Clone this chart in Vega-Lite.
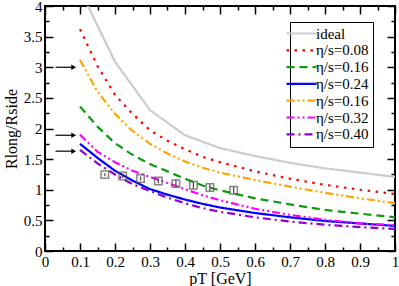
{
 "$schema": "https://vega.github.io/schema/vega-lite/v6.json",
 "width": 350, "height": 245,
 "autosize": {"type": "none"},
 "padding": {"left": 45, "top": 6, "right": 4, "bottom": 35},
 "config": {
  "view": {"stroke": "black", "strokeWidth": 2},
  "font": "Liberation Serif",
  "axis": {"grid": false, "domain": false, "tickColor": "black", "tickWidth": 1.5, "labelFont": "Liberation Serif", "labelFontSize": 15, "labelColor": "black", "titleFont": "Liberation Serif", "titleFontSize": 16, "titleFontWeight": "normal", "titleColor": "black", "labelOverlap": false, "labelFlush": false},
  "legend": {"labelFont": "Liberation Serif", "labelFontSize": 15, "labelColor": "black"}
 },
 "datasets": {
  "lines": [
   {"s":"a","x":0.1,"y":4.27},{"s":"a","x":0.2,"y":3.09},{"s":"a","x":0.3,"y":2.30},{"s":"a","x":0.4,"y":1.89},{"s":"a","x":0.5,"y":1.68},{"s":"a","x":0.6,"y":1.55},{"s":"a","x":0.7,"y":1.44},{"s":"a","x":0.8,"y":1.35},{"s":"a","x":0.9,"y":1.28},{"s":"a","x":1.0,"y":1.21},
   {"s":"b","x":0.1,"y":3.62},{"s":"b","x":0.15,"y":3.02},{"s":"b","x":0.2,"y":2.55},{"s":"b","x":0.25,"y":2.24},{"s":"b","x":0.3,"y":1.97},{"s":"b","x":0.35,"y":1.80},{"s":"b","x":0.4,"y":1.66},{"s":"b","x":0.45,"y":1.54},{"s":"b","x":0.5,"y":1.45},{"s":"b","x":0.6,"y":1.30},{"s":"b","x":0.7,"y":1.18},{"s":"b","x":0.8,"y":1.08},{"s":"b","x":0.9,"y":1.00},{"s":"b","x":1.0,"y":0.93},
   {"s":"c","x":0.1,"y":2.36},{"s":"c","x":0.15,"y":2.03},{"s":"c","x":0.2,"y":1.76},{"s":"c","x":0.25,"y":1.57},{"s":"c","x":0.3,"y":1.42},{"s":"c","x":0.35,"y":1.30},{"s":"c","x":0.4,"y":1.18},{"s":"c","x":0.45,"y":1.07},{"s":"c","x":0.5,"y":0.99},{"s":"c","x":0.6,"y":0.86},{"s":"c","x":0.7,"y":0.76},{"s":"c","x":0.8,"y":0.67},{"s":"c","x":0.9,"y":0.61},{"s":"c","x":1.0,"y":0.55},
   {"s":"d","x":0.1,"y":1.75},{"s":"d","x":0.15,"y":1.52},{"s":"d","x":0.2,"y":1.31},{"s":"d","x":0.25,"y":1.15},{"s":"d","x":0.3,"y":1.01},{"s":"d","x":0.35,"y":0.92},{"s":"d","x":0.4,"y":0.84},{"s":"d","x":0.45,"y":0.77},{"s":"d","x":0.5,"y":0.71},{"s":"d","x":0.6,"y":0.62},{"s":"d","x":0.7,"y":0.55},{"s":"d","x":0.8,"y":0.49},{"s":"d","x":0.9,"y":0.45},{"s":"d","x":1.0,"y":0.41},
   {"s":"e","x":0.1,"y":3.12},{"s":"e","x":0.15,"y":2.60},{"s":"e","x":0.2,"y":2.24},{"s":"e","x":0.25,"y":1.96},{"s":"e","x":0.3,"y":1.75},{"s":"e","x":0.35,"y":1.59},{"s":"e","x":0.4,"y":1.46},{"s":"e","x":0.45,"y":1.36},{"s":"e","x":0.5,"y":1.28},{"s":"e","x":0.6,"y":1.16},{"s":"e","x":0.7,"y":1.05},{"s":"e","x":0.8,"y":0.95},{"s":"e","x":0.9,"y":0.86},{"s":"e","x":1.0,"y":0.78},
   {"s":"f","x":0.1,"y":1.90},{"s":"f","x":0.15,"y":1.62},{"s":"f","x":0.2,"y":1.45},{"s":"f","x":0.25,"y":1.31},{"s":"f","x":0.3,"y":1.21},{"s":"f","x":0.35,"y":1.11},{"s":"f","x":0.4,"y":1.01},{"s":"f","x":0.45,"y":0.91},{"s":"f","x":0.5,"y":0.83},{"s":"f","x":0.6,"y":0.69},{"s":"f","x":0.7,"y":0.59},{"s":"f","x":0.8,"y":0.51},{"s":"f","x":0.9,"y":0.45},{"s":"f","x":1.0,"y":0.42},
   {"s":"g","x":0.1,"y":1.65},{"s":"g","x":0.15,"y":1.43},{"s":"g","x":0.2,"y":1.25},{"s":"g","x":0.25,"y":1.09},{"s":"g","x":0.3,"y":0.98},{"s":"g","x":0.35,"y":0.87},{"s":"g","x":0.4,"y":0.78},{"s":"g","x":0.45,"y":0.70},{"s":"g","x":0.5,"y":0.64},{"s":"g","x":0.6,"y":0.55},{"s":"g","x":0.7,"y":0.48},{"s":"g","x":0.8,"y":0.43},{"s":"g","x":0.9,"y":0.39},{"s":"g","x":1.0,"y":0.36}
  ],
  "pts": [
   {"x":0.171,"y":1.247,"lo":1.22,"hi":1.27},
   {"x":0.222,"y":1.225,"lo":1.195,"hi":1.255},
   {"x":0.273,"y":1.182,"lo":1.15,"hi":1.215},
   {"x":0.324,"y":1.143,"lo":1.105,"hi":1.18},
   {"x":0.374,"y":1.10,"lo":1.035,"hi":1.165},
   {"x":0.424,"y":1.072,"lo":1.015,"hi":1.13},
   {"x":0.471,"y":1.035,"lo":0.98,"hi":1.09},
   {"x":0.539,"y":0.993,"lo":0.935,"hi":1.05}
  ],
  "arrows": [
   {"x0":0.03,"x1":0.082,"y":3.0},
   {"x0":0.03,"x1":0.082,"y":1.89},
   {"x0":0.03,"x1":0.082,"y":1.63}
  ]
 },
 "layer": [
  {
   "data": {"name": "lines"},
   "mark": {"type": "line", "clip": true, "strokeWidth": 2.2},
   "encoding": {
    "x": {"field": "x", "type": "quantitative", "scale": {"domain": [0, 1], "nice": false, "zero": false},
     "axis": {"orient": "bottom", "values": [0,0.1,0.2,0.3,0.4,0.5,0.6,0.7,0.8,0.9,1], "format": "~g", "ticks": false,
      "labelPadding": 3, "title": "pT [GeV]", "titleY": 19.5, "titleBaseline": "top"}},
    "y": {"field": "y", "type": "quantitative", "scale": {"domain": [0, 4], "nice": false, "zero": false},
     "axis": {"orient": "left", "values": [0,0.5,1,1.5,2,2.5,3,3.5,4], "format": "~g", "ticks": false,
      "labelPadding": 3, "title": "Rlong/Rside", "titlePadding": 4}},
    "color": {"field": "s", "type": "nominal",
     "scale": {"domain": ["a","b","c","d","e","f","g"], "range": ["#cccccc","#ff0000","#109a10","#0000ff","#ffa500","#ff00ff","#9400d3"]},
     "legend": {"title": null, "orient": "none", "legendX": 245, "legendY": 16, "symbolType": "M-2.5,0H2.5", "symbolSize": 144, "symbolStrokeWidth": 2.2, "labelFont": "Liberation Serif", "labelFontSize": 15, "labelColor": "black", "labelOffset": 7, "rowPadding": 0.8, "padding": 4, "strokeColor": "black", "fillColor": "white",
      "labelExpr": "{'a':'ideal','b':'η/s=0.08','c':'η/s=0.16','d':'η/s=0.24','e':'η/s=0.16','f':'η/s=0.32','g':'η/s=0.40'}[datum.label]"}},
    "strokeDash": {"field": "s", "type": "nominal",
     "scale": {"domain": ["a","b","c","d","e","f","g"], "range": [[1,0],[2.5,5.5],[8,5],[1,0],[8,3,2,3,2,3],[8,3,2,3,2,3],[8,4,2,4]]},
     "legend": {"title": null, "orient": "none", "legendX": 245, "legendY": 16, "symbolType": "M-2.5,0H2.5", "symbolSize": 144, "symbolStrokeWidth": 2.2, "labelFont": "Liberation Serif", "labelFontSize": 15, "labelColor": "black", "labelOffset": 7, "rowPadding": 0.8, "padding": 4, "strokeColor": "black", "fillColor": "white",
      "labelExpr": "{'a':'ideal','b':'η/s=0.08','c':'η/s=0.16','d':'η/s=0.24','e':'η/s=0.16','f':'η/s=0.32','g':'η/s=0.40'}[datum.label]"}}
   }
  },
  {
   "data": {"name": "pts"},
   "mark": {"type": "rule", "stroke": "#444444", "strokeWidth": 1.2},
   "encoding": {
    "x": {"field": "x", "type": "quantitative",
     "axis": {"orient": "top", "values": [0,0.05,0.1,0.15,0.2,0.25,0.3,0.35,0.4,0.45,0.5,0.55,0.6,0.65,0.7,0.75,0.8,0.85,0.9,0.95,1], "labels": false, "title": null,
      "tickSize": {"condition": {"test": "abs(datum.value*10 - round(datum.value*10)) > 0.001", "value": -4}, "value": -8}}},
    "y": {"field": "lo", "type": "quantitative",
     "axis": {"orient": "right", "values": [0,0.25,0.5,0.75,1,1.25,1.5,1.75,2,2.25,2.5,2.75,3,3.25,3.5,3.75,4], "labels": false, "title": null,
      "tickSize": {"condition": {"test": "abs(datum.value*2 - round(datum.value*2)) > 0.001", "value": -4}, "value": -8}}},
    "y2": {"field": "hi"}
   }
  },
  {
   "data": {"name": "pts"},
   "mark": {"type": "point", "shape": "square", "size": 56, "filled": false, "stroke": "#555555", "strokeWidth": 1.5},
   "encoding": {
    "x": {"field": "x", "type": "quantitative",
     "axis": {"orient": "bottom", "values": [0,0.05,0.1,0.15,0.2,0.25,0.3,0.35,0.4,0.45,0.5,0.55,0.6,0.65,0.7,0.75,0.8,0.85,0.9,0.95,1], "labels": false, "title": null,
      "tickSize": {"condition": {"test": "abs(datum.value*10 - round(datum.value*10)) > 0.001", "value": -4}, "value": -8}}},
    "y": {"field": "y", "type": "quantitative",
     "axis": {"orient": "left", "values": [0,0.25,0.5,0.75,1,1.25,1.5,1.75,2,2.25,2.5,2.75,3,3.25,3.5,3.75,4], "labels": false, "title": null,
      "tickSize": {"condition": {"test": "abs(datum.value*2 - round(datum.value*2)) > 0.001", "value": -4}, "value": -8}}}
   }
  },
  {
   "data": {"name": "arrows"},
   "mark": {"type": "rule", "stroke": "black", "strokeWidth": 1.2},
   "encoding": {
    "x": {"field": "x0", "type": "quantitative", "axis": null},
    "x2": {"field": "x1"},
    "y": {"field": "y", "type": "quantitative", "axis": null}
   }
  },
  {
   "data": {"name": "arrows"},
   "mark": {"type": "point", "shape": "triangle-right", "size": 30, "filled": true, "color": "black", "opacity": 1},
   "encoding": {
    "x": {"field": "x1", "type": "quantitative", "axis": null},
    "y": {"field": "y", "type": "quantitative", "axis": null}
   }
  }
 ],
 "resolve": {"axis": {"x": "independent", "y": "independent"}}
}
